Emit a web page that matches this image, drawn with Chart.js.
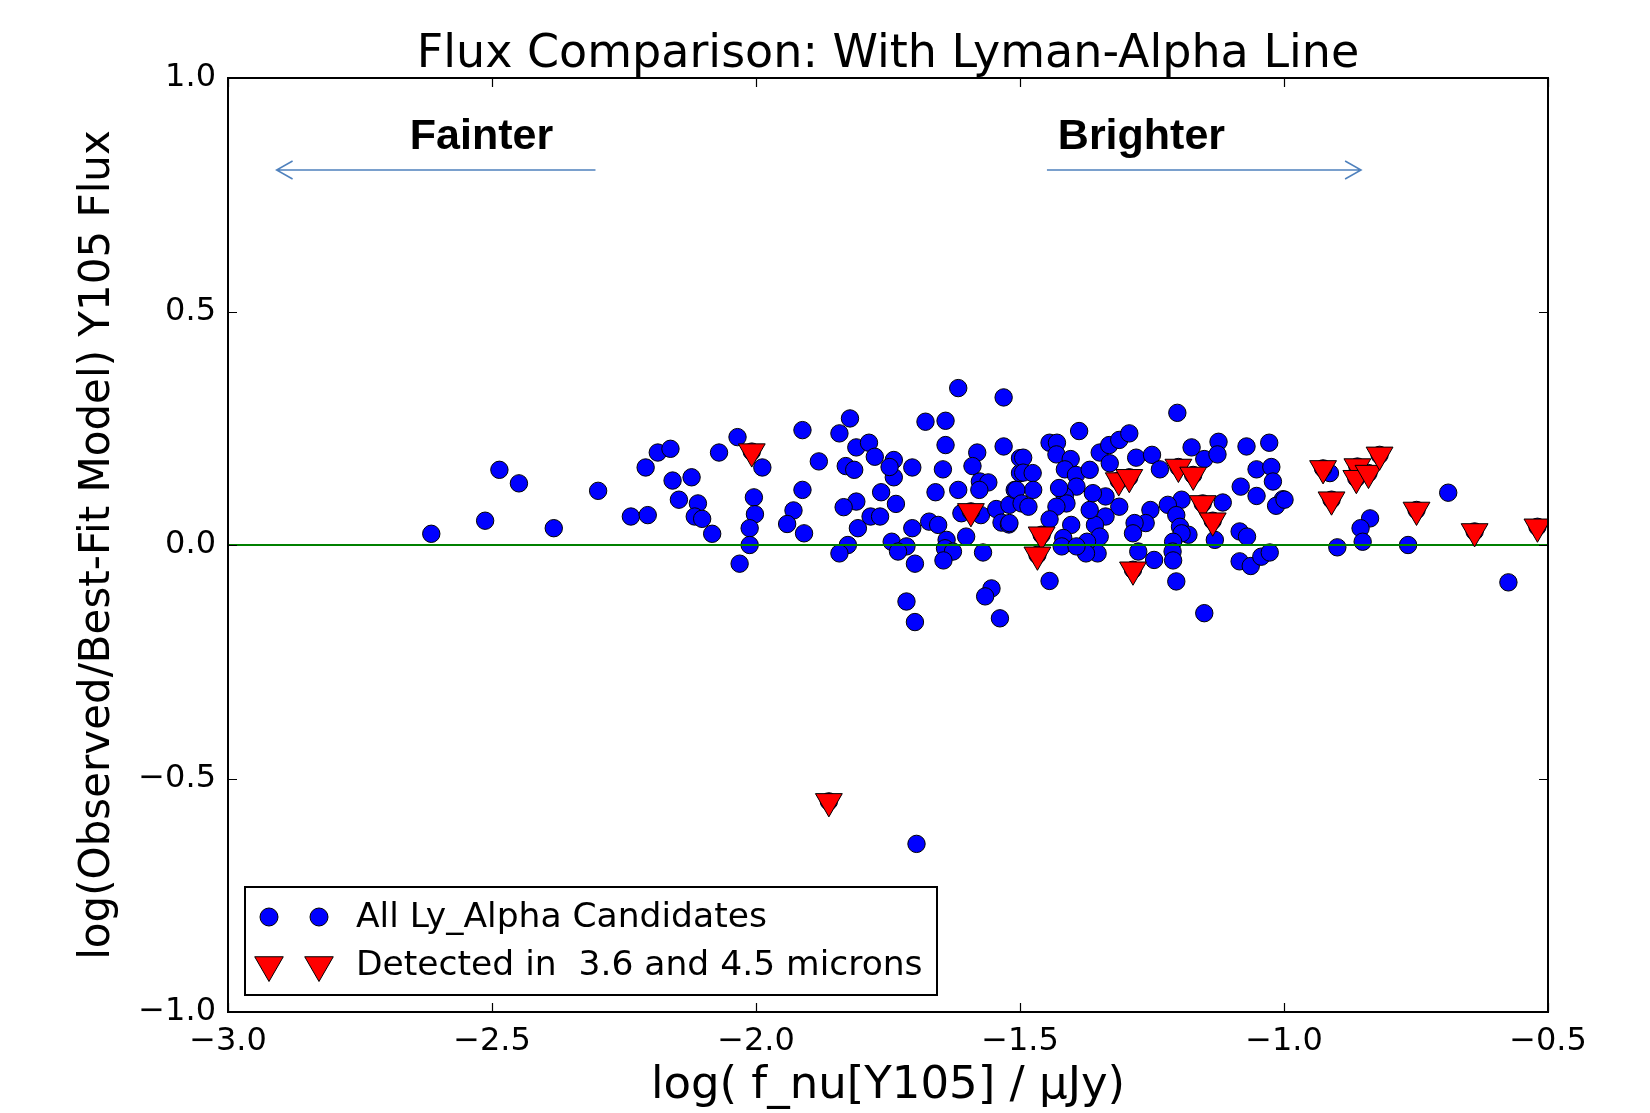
<!DOCTYPE html>
<html>
<head>
<meta charset="utf-8">
<title>Flux Comparison: With Lyman-Alpha Line</title>
<script src="https://cdn.jsdelivr.net/npm/chart.js@4.4.1/dist/chart.umd.min.js"></script>
<style>
  html, body { margin: 0; padding: 0; background: #fff; }
  canvas { display: block; }
</style>
</head>
<body>
<canvas id="fluxChart" width="1650" height="1113"></canvas>
<script>
// Ejes y etiquetas
const chartTitle = "Flux Comparison: With Lyman-Alpha Line";
const xTicks = [-3.0, -2.5, -2.0, -1.5, -1.0, -0.5];
const xTickLabels = ["\u22123.0", "\u22122.5", "\u22122.0", "\u22121.5", "\u22121.0", "\u22120.5"];
const yTicks = [-1.0, -0.5, 0.0, 0.5, 1.0];
const yTickLabels = ["\u22121.0", "\u22120.5", "0.0", "0.5", "1.0"];

// Todos los candidatos Ly-alpha [log f_nu, log(obs/modelo)]
const allCandidates = [
  [-2.615, 0.024], [-2.513, 0.052], [-2.486, 0.161], [-2.449, 0.132], [-2.383, 0.036],
  [-2.299, 0.116], [-2.237, 0.061], [-2.205, 0.064], [-2.209, 0.166], [-2.186, 0.198],
  [-2.162, 0.206], [-2.158, 0.138], [-2.122, 0.145], [-2.146, 0.097], [-2.110, 0.089],
  [-2.116, 0.061], [-2.102, 0.056], [-2.083, 0.024], [-2.070, 0.198],
  [-2.035, 0.231], [-1.988, 0.166], [-2.004, 0.102], [-2.002, 0.066], [-2.012, 0.036],
  [-2.012, 0.000], [-2.031, -0.040], [-1.912, 0.246], [-1.881, 0.179], [-1.912, 0.118],
  [-1.929, 0.074], [-1.941, 0.045], [-1.909, 0.025], [-1.822, 0.271], [-1.842, 0.239],
  [-1.810, 0.209], [-1.786, 0.219], [-1.775, 0.189], [-1.830, 0.169], [-1.814, 0.161],
  [-1.739, 0.182], [-1.739, 0.145], [-1.747, 0.167], [-1.704, 0.166], [-1.763, 0.113],
  [-1.810, 0.093], [-1.834, 0.081], [-1.735, 0.088], [-1.783, 0.061], [-1.765, 0.061],
  [-1.807, 0.036], [-1.826, 0.000], [-1.842, -0.018], [-1.743, 0.007], [-1.715, -0.003],
  [-1.731, -0.014], [-1.699, -0.040], [-1.704, 0.036], [-1.672, 0.050], [-1.655, 0.043],
  [-1.639, 0.011], [-1.642, -0.007], [-1.627, -0.014], [-1.645, -0.033], [-1.715, -0.121],
  [-1.699, -0.165], [-1.617, 0.336], [-1.679, 0.264], [-1.641, 0.266], [-1.641, 0.214],
  [-1.646, 0.162], [-1.660, 0.113], [-1.617, 0.118], [-1.581, 0.198], [-1.590, 0.169],
  [-1.576, 0.136], [-1.560, 0.134], [-1.577, 0.118], [-1.611, 0.068], [-1.574, 0.064],
  [-1.602, 0.018], [-1.570, -0.016], [-1.531, 0.316], [-1.531, 0.211], [-1.545, 0.077],
  [-1.535, 0.048], [-1.521, 0.044], [-1.520, 0.086], [-1.510, 0.118], [-1.500, 0.154],
  [-1.500, 0.186], [-1.554, -0.093], [-1.566, -0.110], [-1.538, -0.157],
  [-1.696, -0.640], [-1.444, -0.077],
  [-1.388, 0.244], [-1.444, 0.219], [-1.430, 0.219], [-1.431, 0.194], [-1.404, 0.184],
  [-1.494, 0.187], [-1.494, 0.155], [-1.476, 0.154], [-1.415, 0.162], [-1.394, 0.150],
  [-1.368, 0.161], [-1.349, 0.198], [-1.331, 0.214], [-1.312, 0.225], [-1.293, 0.239],
  [-1.330, 0.175], [-1.280, 0.187], [-1.250, 0.193], [-1.235, 0.162], [-1.202, 0.283],
  [-1.175, 0.209], [-1.151, 0.184], [-1.124, 0.221], [-1.126, 0.194], [-1.071, 0.211],
  [-1.028, 0.219], [-1.052, 0.162], [-1.024, 0.167], [-1.021, 0.136], [-1.082, 0.125],
  [-1.052, 0.105], [-1.002, 0.098], [-1.015, 0.084], [-1.116, 0.091], [-1.131, 0.011],
  [-1.084, 0.029], [-1.070, 0.018], [-1.084, -0.035], [-1.063, -0.045], [-1.043, -0.025],
  [-1.027, -0.016], [-1.151, -0.146], [-1.204, -0.078], [-1.194, 0.097], [-1.220, 0.086],
  [-1.204, 0.064], [-1.197, 0.039], [-1.181, 0.022], [-1.194, 0.025], [-1.210, 0.007],
  [-1.211, -0.014], [-1.210, -0.033], [-1.246, -0.032], [-1.253, 0.075], [-1.262, 0.047],
  [-1.283, 0.047], [-1.286, 0.025], [-1.276, -0.014], [-1.312, 0.082], [-1.338, 0.104],
  [-1.338, 0.061], [-1.358, 0.043], [-1.349, 0.018], [-1.353, -0.018], [-1.373, 0.007],
  [-1.375, -0.018], [-1.368, 0.075], [-1.362, 0.111], [-1.393, 0.125], [-1.415, 0.104],
  [-1.412, 0.089], [-1.426, 0.122], [-1.431, 0.082], [-1.444, 0.055], [-1.403, 0.043],
  [-1.418, 0.015], [-1.421, -0.003], [-1.393, -0.003], [-1.475, 0.118], [-1.507, 0.118],
  [-1.497, 0.089], [-1.484, 0.082], [-1.520, 0.047],
  [-0.913, 0.154], [-0.999, 0.097], [-0.689, 0.112], [-0.575, -0.080], [-0.837, 0.057],
  [-0.855, 0.036], [-0.851, 0.007], [-0.899, -0.005], [-0.765, 0.000]
];

// Detectados en 3.6 y 4.5 micras
const detected = [
  [-2.008, 0.200], [-1.593, 0.072], [-1.862, -0.549], [-1.459, 0.022], [-1.467, -0.021],
  [-1.313, 0.138], [-1.293, 0.145], [-1.286, -0.053], [-1.200, 0.167], [-1.172, 0.150],
  [-1.154, 0.089], [-1.135, 0.052], [-0.926, 0.164], [-0.910, 0.097], [-0.861, 0.168],
  [-0.863, 0.143], [-0.840, 0.154], [-0.819, 0.193], [-0.749, 0.075], [-0.639, 0.029],
  [-0.520, 0.039]
];

// Linea de referencia y = 0
const zeroLineX = [-3.0, -0.5];
const zeroLineY = [0.0, 0.0];

const FONT = "'DejaVu Sans', sans-serif";
const toPoints = arr => arr.map(p => ({ x: p[0], y: p[1] }));

// los detectados tambien forman parte de todos los candidatos
const allPoints = toPoints(allCandidates.concat(detected));
const detPoints = toPoints(detected);
const zeroPoints = zeroLineX.map((x, i) => ({ x, y: zeroLineY[i] }));

// Anotaciones (en unidades de datos)
const notes = {
  fainter: { text: "Fainter", x: -2.52, y: 0.873 },
  brighter: { text: "Brighter", x: -1.27, y: 0.873 },
  arrowLeft: { from: -2.304, to: -2.908, y: 0.803 },
  arrowRight: { from: -1.449, to: -0.854, y: 0.803 }
};

function drawMarker(ctx, style, x, y) {
  ctx.save();
  ctx.fillStyle = style.fill;
  ctx.strokeStyle = "#000";
  ctx.lineWidth = 1;
  if (Chart.helpers && Chart.helpers.drawPoint) {
    Chart.helpers.drawPoint(ctx, { pointStyle: style.shape, rotation: style.rotation, radius: style.radius, borderWidth: 1 }, x, y);
  } else {
    ctx.beginPath();
    ctx.arc(x, y, style.radius, 0, Math.PI * 2);
    ctx.fill();
    ctx.stroke();
  }
  ctx.restore();
}

function drawArrow(ctx, x1, x2, y) {
  const dir = Math.sign(x2 - x1);
  ctx.save();
  ctx.strokeStyle = "#4f81bd";
  ctx.lineWidth = 1.5;
  ctx.beginPath();
  ctx.moveTo(x1, y);
  ctx.lineTo(x2, y);
  ctx.moveTo(x2 - dir * 16, y - 9);
  ctx.lineTo(x2, y);
  ctx.lineTo(x2 - dir * 16, y + 9);
  ctx.stroke();
  ctx.restore();
}

const decorations = {
  id: "decorations",
  afterDatasetsDraw(chart) {
    const { ctx, chartArea: a, scales: { x, y } } = chart;
    ctx.save();

    // titulo centrado sobre el area de datos
    ctx.fillStyle = "#000";
    ctx.font = "46px " + FONT;
    ctx.textAlign = "center";
    ctx.textBaseline = "alphabetic";
    ctx.fillText(chartTitle, (a.left + a.right) / 2, 67);

    // marcas de los ejes hacia dentro
    ctx.strokeStyle = "#000";
    ctx.lineWidth = 1.2;
    ctx.beginPath();
    x.ticks.forEach(t => {
      const px = Math.round(x.getPixelForValue(t.value)) + 0.5;
      ctx.moveTo(px, a.bottom); ctx.lineTo(px, a.bottom - 9);
      ctx.moveTo(px, a.top); ctx.lineTo(px, a.top + 9);
    });
    y.ticks.forEach(t => {
      const py = Math.round(y.getPixelForValue(t.value)) + 0.5;
      ctx.moveTo(a.left, py); ctx.lineTo(a.left + 9, py);
      ctx.moveTo(a.right, py); ctx.lineTo(a.right - 9, py);
    });
    ctx.stroke();

    // marco
    ctx.lineWidth = 2;
    ctx.strokeRect(a.left, a.top, a.right - a.left, a.bottom - a.top);

    // Fainter / Brighter
    ctx.fillStyle = "#000";
    ctx.font = "bold 43px 'Liberation Sans', Arial, sans-serif";
    ctx.textAlign = "center";
    ctx.textBaseline = "middle";
    [notes.fainter, notes.brighter].forEach(n => {
      ctx.fillText(n.text, x.getPixelForValue(n.x), y.getPixelForValue(n.y));
    });
    [notes.arrowLeft, notes.arrowRight].forEach(n => {
      drawArrow(ctx, x.getPixelForValue(n.from), x.getPixelForValue(n.to), y.getPixelForValue(n.y));
    });

    // leyenda con dos marcadores por entrada
    const box = { left: 245, top: 887, width: 692, height: 108 };
    ctx.fillStyle = "#fff";
    ctx.fillRect(box.left, box.top, box.width, box.height);
    ctx.lineWidth = 2;
    ctx.strokeStyle = "#000";
    ctx.strokeRect(box.left, box.top, box.width, box.height);
    const entries = chart.data.datasets.filter(d => d.legendStyle)
      .sort((p, q) => p.legendStyle.rank - q.legendStyle.rank);
    entries.forEach((d, i) => {
      const cy = box.top + 30 + i * 48;
      drawMarker(ctx, d.legendStyle, box.left + 24, cy);
      drawMarker(ctx, d.legendStyle, box.left + 74, cy);
      ctx.fillStyle = "#000";
      ctx.font = "34.5px " + FONT;
      ctx.textAlign = "left";
      ctx.textBaseline = "middle";
      ctx.fillText(d.label, box.left + 111, cy + 1);
    });
    ctx.restore();
  }
};

new Chart(document.getElementById("fluxChart"), {
  type: "scatter",
  data: {
    datasets: [
      {
        label: "Detected in  3.6 and 4.5 microns",
        data: detPoints,
        pointStyle: "triangle",
        rotation: 180,
        radius: 15.5,
        backgroundColor: "#ff0000",
        borderColor: "#000000",
        borderWidth: 1,
        order: 1,
        legendStyle: { rank: 2, shape: "triangle", rotation: 180, radius: 16.5, fill: "#ff0000" }
      },
      {
        label: "zero",
        data: zeroPoints,
        showLine: true,
        borderColor: "#008000",
        borderWidth: 2,
        pointRadius: 0,
        order: 2
      },
      {
        label: "All Ly_Alpha Candidates",
        data: allPoints,
        pointStyle: "circle",
        radius: 8.7,
        backgroundColor: "#0000ff",
        borderColor: "#000000",
        borderWidth: 1,
        order: 3,
        legendStyle: { rank: 1, shape: "circle", rotation: 0, radius: 9, fill: "#0000ff" }
      }
    ]
  },
  options: {
    responsive: false,
    animation: false,
    layout: { padding: { left: 0, right: 102, top: 78, bottom: 0 } },
    plugins: {
      legend: { display: false },
      tooltip: { enabled: false },
      title: { display: false }
    },
    scales: {
      x: {
        type: "linear",
        min: xTicks[0],
        max: xTicks[xTicks.length - 1],
        grid: { display: false, drawTicks: false },
        border: { display: false },
        afterBuildTicks: s => { s.ticks = xTicks.map(v => ({ value: v })); },
        afterFit: s => { s.height = 101; },
        ticks: {
          autoSkip: false,
          maxRotation: 0,
          padding: 10,
          color: "#000",
          font: { family: FONT, size: 32 },
          callback: (v, i) => xTickLabels[i]
        },
        title: {
          display: true,
          text: "log( f_nu[Y105] / \u03bcJy)",
          color: "#000",
          font: { family: FONT, size: 45 },
          padding: { top: 0, bottom: 0 }
        }
      },
      y: {
        type: "linear",
        min: yTicks[0],
        max: yTicks[yTicks.length - 1],
        grid: { display: false, drawTicks: false },
        border: { display: false },
        afterBuildTicks: s => { s.ticks = yTicks.map(v => ({ value: v })); },
        afterFit: s => { s.width = 228; },
        ticks: {
          autoSkip: false,
          padding: 12,
          color: "#000",
          font: { family: FONT, size: 32 },
          callback: (v, i) => yTickLabels[i]
        },
        title: {
          display: true,
          text: "log(Observed/Best-Fit Model) Y105 Flux",
          color: "#000",
          font: { family: FONT, size: 42 },
          padding: { top: 73, bottom: 0 }
        }
      }
    }
  },
  plugins: [decorations]
});
</script>
</body>
</html>
